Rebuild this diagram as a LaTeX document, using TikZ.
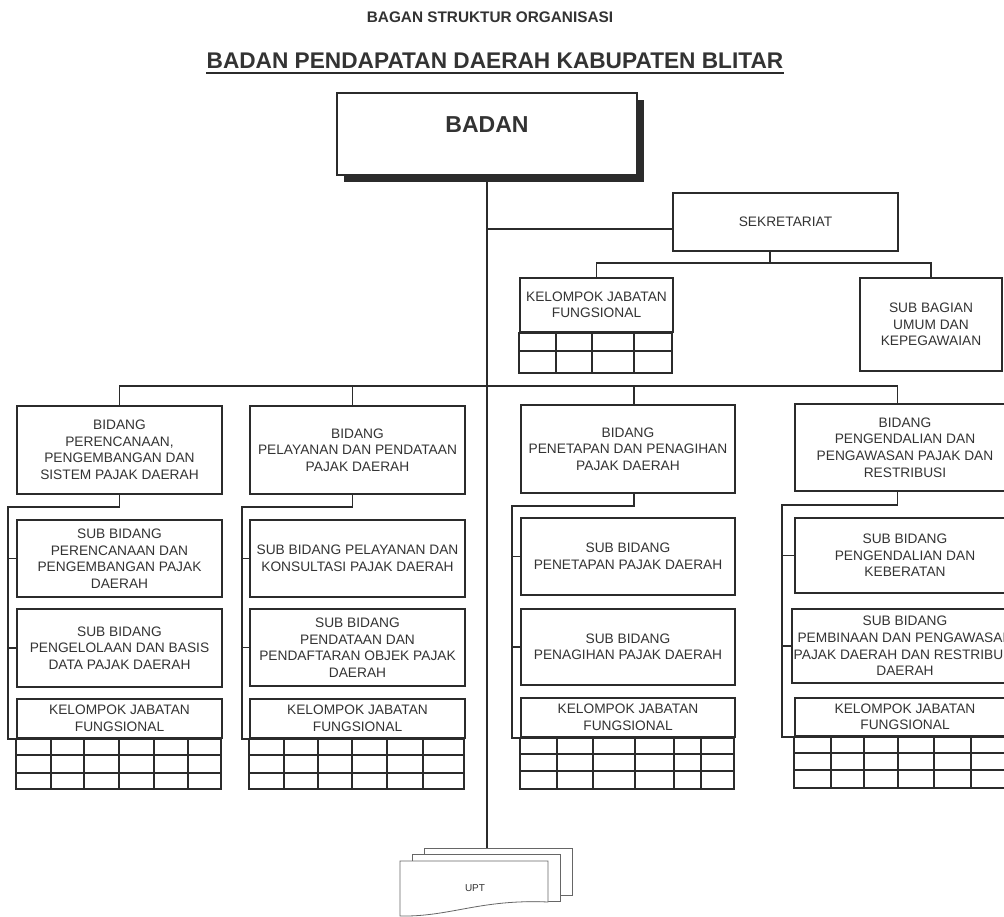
\documentclass[tikz,border=0pt]{standalone}
\usepackage{fontspec}
\setmainfont{Liberation Sans}
\usetikzlibrary{shadows,calc}
\definecolor{ink}{HTML}{2B2B2B}
\definecolor{txt}{HTML}{333333}
\newcommand\fs{\fontsize{10.3}{12.4}\selectfont}
\tikzset{
  box/.style={draw=ink, line width=1.5pt, fill=white, text=txt, align=center, font=\fs, inner sep=1pt},
  sz/.style 2 args={minimum width={#1*0.75pt}, minimum height={#2*0.75pt}},
  conn/.style={draw=ink, line width=0.8pt},
  boxl/.style={draw=ink, line width=1.5pt},
  gridl/.style={draw=ink, line width=1pt},
  sheet/.style={draw=black!60, line width=0.6pt, fill=white},
}
\begin{document}
\begin{tikzpicture}[x=0.75pt,y=-0.75pt]
\path[use as bounding box] (0,0) rectangle (1004,917);
\fill[white] (0,0) rectangle (1004,917);
\clip (0,0) rectangle (1004,917);

% titles
\node[anchor=base, font=\fontsize{11.5}{14}\selectfont\bfseries, text=txt, inner sep=0] (t1) at (490,23) {BAGAN STRUKTUR ORGANISASI};
\node[anchor=base, font=\fontsize{17}{20}\selectfont\bfseries, text=txt, inner sep=0] (t2) at (495,69) {BADAN PENDAPATAN DAERAH KABUPATEN BLITAR};
\draw[ink, line width=1.2pt] ([yshift=-3pt]t2.base west) -- ([yshift=-3pt]t2.base east);

% BADAN
\node[box, line width=1.6pt, sz={300}{82}, font=\fontsize{17.3}{20}\selectfont\bfseries, text depth=13.5pt,
      drop shadow={shadow xshift=5pt, shadow yshift=-5pt, fill=ink, opacity=1}] (badan) at (487,134) {BADAN};

% UPT
\coordinate (uptTop) at (487,848);
\draw[conn] (badan.south) -- (uptTop);
\filldraw[sheet] (424,848) rectangle (572,895);
\filldraw[sheet] (412,854) rectangle (560,901);
\filldraw[sheet] (400,861) -- (548,861) -- (548,902) .. controls (480,899) and (450,917) .. (400,916) -- cycle;
\node[font=\fontsize{7.5}{9}\selectfont, text=txt] (upt) at (475,888) {UPT};

% Sekretariat
\node[box, sz={225}{58}] (sek) at (785.5,222) {SEKRETARIAT};
\node[box, sz={153}{54}] (kjfs) at (596.5,305) {KELOMPOK JABATAN\\FUNGSIONAL};
\draw[boxl] (kjfs.south west) rectangle ++(153,40);
\draw[gridl] (520,351) -- (673,351);
\foreach \x in {556,592,634} \draw[gridl] (\x,332) -- (\x,372);
\node[box, sz={142}{93}] (subbag) at (931,324.5) {SUB BAGIAN\\UMUM DAN\\KEPEGAWAIAN};

\coordinate (j1) at (487,229);
\draw[conn] (j1) -- (j1 -| sek.west);
\coordinate (sb) at (770,263);
\draw[conn] (sek.south -| sb) -- (sb);
\draw[conn] (kjfs.north) |- (sb) -| (subbag.north);

% Bidang row
\node[box, sz={205}{88}] (b1) at (119.5,450) {BIDANG\\PERENCANAAN,\\PENGEMBANGAN DAN\\SISTEM PAJAK DAERAH};
\node[box, sz={215}{88}] (b2) at (357.5,450) {BIDANG\\PELAYANAN DAN PENDATAAN\\PAJAK DAERAH};
\node[box, sz={214}{88}] (b3) at (628,449) {BIDANG\\PENETAPAN DAN PENAGIHAN\\PAJAK DAERAH};
\node[box, sz={220}{87}] (b4) at (905,447.5) {BIDANG\\PENGENDALIAN DAN\\PENGAWASAN PAJAK DAN\\RESTRIBUSI};

\coordinate (bb) at (487,386);
\draw[conn] (b1.north) |- (bb) -| ([xshift=-5.5pt]b4.north);
\draw[conn] ([xshift=-4pt]b2.north) -- ([xshift=-4pt]b2.north |- bb);
\draw[conn] ([xshift=4.5pt]b3.north) -- ([xshift=4.5pt]b3.north |- bb);

% Sub bidang 1
\node[box, sz={205}{77}] (s11) at (119.5,558.5) {SUB BIDANG\\PERENCANAAN DAN\\PENGEMBANGAN PAJAK\\DAERAH};
\node[box, sz={215}{77}] (s21) at (357.5,558.5) {SUB BIDANG PELAYANAN DAN\\KONSULTASI PAJAK DAERAH};
\node[box, sz={214}{77}] (s31) at (628,556.5) {SUB BIDANG\\PENETAPAN PAJAK DAERAH};
\node[box, sz={220}{75}] (s41) at (905,555.5) {SUB BIDANG\\PENGENDALIAN DAN\\KEBERATAN};

% Sub bidang 2
\node[box, sz={205}{78}] (s12) at (119.5,648) {SUB BIDANG\\PENGELOLAAN DAN BASIS\\DATA PAJAK DAERAH};
\node[box, sz={215}{77}] (s22) at (357.5,647.5) {SUB BIDANG\\PENDATAAN DAN\\PENDAFTARAN OBJEK PAJAK\\DAERAH};
\node[box, sz={214}{76}] (s32) at (628,647) {SUB BIDANG\\PENAGIHAN PAJAK DAERAH};
\node[box, sz={220}{74}] (s42) at (905,646) {SUB BIDANG\\PEMBINAAN DAN PENGAWASAN\\PAJAK DAERAH DAN RESTRIBUSI\\DAERAH};

% Kelompok jabatan fungsional
\node[box, sz={205}{39}] (k1) at (119.5,718.5) {KELOMPOK JABATAN\\FUNGSIONAL};
\draw[boxl] (k1.south west) rectangle ++(205,50);
\draw[gridl] (17,755) -- (222,755) (17,773) -- (222,773);
\foreach \x in {51,84,119,154,188} \draw[gridl] (\x,738) -- (\x,788);

\node[box, sz={215}{39}] (k2) at (357.5,718.5) {KELOMPOK JABATAN\\FUNGSIONAL};
\draw[boxl] (k2.south west) rectangle ++(215,50);
\draw[gridl] (250,755) -- (465,755) (250,773) -- (465,773);
\foreach \x in {284,318,352,387,423} \draw[gridl] (\x,738) -- (\x,788);

\node[box, sz={214}{39}] (k3) at (628,717.5) {KELOMPOK JABATAN\\FUNGSIONAL};
\draw[boxl] (k3.south west) rectangle ++(214,51);
\draw[gridl] (521,754) -- (735,754) (521,771) -- (735,771);
\foreach \x in {557,593,635,674,701} \draw[gridl] (\x,737) -- (\x,788);

\node[box, sz={220}{38}] (k4) at (905,717) {KELOMPOK JABATAN\\FUNGSIONAL};
\draw[boxl] (k4.south west) rectangle ++(220,51);
\draw[gridl] (795,753) -- (1015,753) (795,770) -- (1015,770);
\foreach \x in {831,864,898,934,971} \draw[gridl] (\x,736) -- (\x,787);

% column connectors
\coordinate (c1) at (8,507);
\coordinate (c2) at (242,507);
\coordinate (c3) at (512,506);
\coordinate (c4) at (782,505);
\draw[conn] (b1.south) |- (c1) |- (k1.south west);
\draw[conn] ([xshift=-4pt]b2.south) |- (c2) |- (k2.south west);
\draw[conn] ([xshift=4.5pt]b3.south) |- (c3) |- (k3.south west);
\draw[conn] ([xshift=-5.5pt]b4.south) |- (c4) |- (k4.south west);
\draw[conn] (c1 |- s11.west) -- (s11.west) (c1 |- s12.west) -- (s12.west);
\draw[conn] (c2 |- s21.west) -- (s21.west) (c2 |- s22.west) -- (s22.west);
\draw[conn] (c3 |- s31.west) -- (s31.west) (c3 |- s32.west) -- (s32.west);
\draw[conn] (c4 |- s41.west) -- (s41.west) (c4 |- s42.west) -- (s42.west);
\end{tikzpicture}
\end{document}
